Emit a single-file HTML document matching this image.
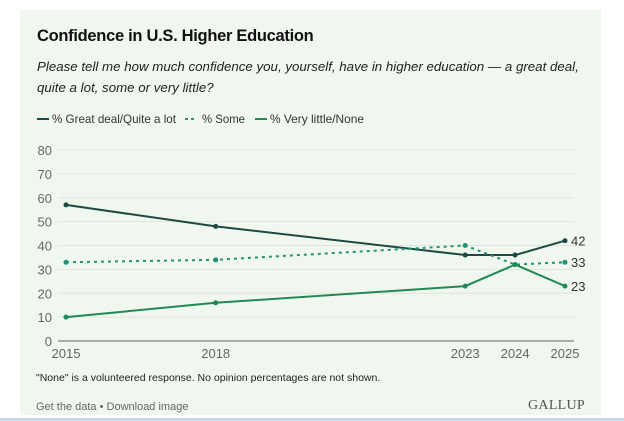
<!DOCTYPE html>
<html><head><meta charset="utf-8"><style>
body{margin:0;width:624px;height:421px;background:#fff;overflow:hidden;font-family:"Liberation Sans",sans-serif}
#panel{position:absolute;left:20px;top:10px;width:581px;height:405px;background:#f0f7ef}
.t{position:absolute;white-space:nowrap}
</style></head><body>
<div id="panel"></div>
<div class="t" style="left:37px;top:27px;font-size:16.5px;font-weight:bold;color:#111;letter-spacing:-0.3px">Confidence in U.S. Higher Education</div>
<div class="t" style="left:37px;top:56px;font-size:13.3px;font-style:italic;color:#222;line-height:21px">Please tell me how much confidence you, yourself, have in higher education — a great deal,<br>quite a lot, some or very little?</div>
<svg id="chart" width="624" height="421" style="position:absolute;left:0;top:0"></svg>
<script>
const years=[2015,2018,2023,2024,2025];
const greatDeal=[57,48,36,36,42];
const some=[33,34,40,32,33];
const veryLittle=[10,16,23,32,23];
const yTicks=[0,10,20,30,40,50,60,70,80];
const seriesNames=["% Great deal/Quite a lot","% Some","% Very little/None"];
const NS="http://www.w3.org/2000/svg";
const svg=document.getElementById('chart');
function xs(y){return 66+(y-2015)*(565-66)/10;}
function ys(v){return 341-v*(341-150)/80;}
function mk(tag,attrs,parent){const e=document.createElementNS(NS,tag);for(const k in attrs)e.setAttribute(k,attrs[k]);(parent||svg).appendChild(e);return e;}
yTicks.forEach(v=>{
  const l=mk('line',{x1:58,x2:574,y1:ys(v),y2:ys(v),stroke:v===0?'#666':'#dde5dc','stroke-width':1});
  
  
  const t=mk('text',{x:52,y:ys(v)+5,'text-anchor':'end','font-size':13,fill:'#666','font-family':'Liberation Sans'});
  t.textContent=v;
  
  
});
years.forEach(y=>{
  const t=mk('text',{x:xs(y),y:358,'text-anchor':'middle','font-size':13,fill:'#666','font-family':'Liberation Sans'});
  t.textContent=y;
  
  
});
const series=[[greatDeal,'#1c4a42',null],[some,'#229374','3,4'],[veryLittle,'#1f8a55',null]];
series.forEach(([vals,c,dash],i)=>{
  const p=mk('polyline',{points:vals.map((v,j)=>xs(years[j])+','+ys(v)).join(' '),fill:'none',stroke:c,'stroke-width':2});
  if(dash)p.setAttribute('stroke-dasharray',dash);
  
  
  vals.forEach((v,j)=>{
    const d=mk('circle',{cx:xs(years[j]),cy:ys(v),r:2.5,fill:c});
    
    
  });
  const last=vals[vals.length-1];
  const t=mk('text',{x:571,y:ys(last)+5,'font-size':13,fill:'#333','font-family':'Liberation Sans'});
  t.textContent=last;
  
  
});
const lg=[[37,'#1c4a42',null,52,124],[185,'#229374','3,3',202,43],[255,'#1f8a55',null,270,94]];
lg.forEach((a,i)=>{
  const l=mk('line',{x1:a[0],x2:a[0]+12,y1:119,y2:119,stroke:a[1],'stroke-width':2});
  if(a[2])l.setAttribute('stroke-dasharray',a[2]);
  
  
  const t=mk('text',{x:a[3],y:123,'font-size':12,fill:'#333','font-family':'Liberation Sans',textLength:a[4],lengthAdjust:'spacingAndGlyphs'});
  t.textContent=seriesNames[i];
  
  
});
</script>
<div class="t" style="left:36px;top:372px;font-size:10.5px;color:#222">"None" is a volunteered response. No opinion percentages are not shown.</div>
<div class="t" style="left:36px;top:401px;font-size:11px;color:#666">Get the data • Download image</div>
<div class="t" style="left:528px;top:398px;font-size:14px;font-family:'Liberation Serif',serif;color:#555;letter-spacing:0.3px">GALLUP</div>
<div style="position:absolute;left:0;top:418px;width:624px;height:3px;background:#c9d6e6"></div>
</body></html>
